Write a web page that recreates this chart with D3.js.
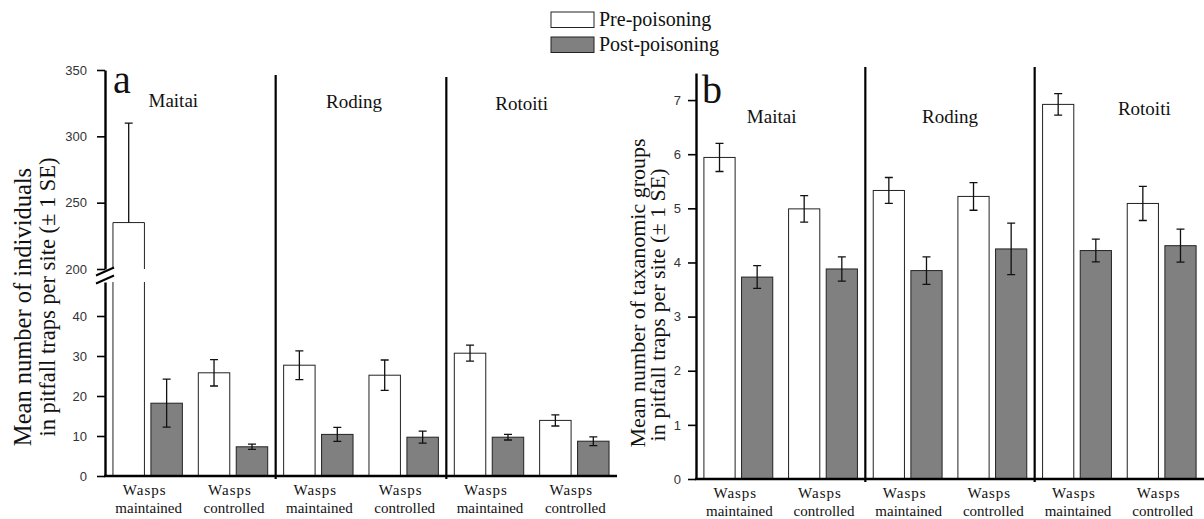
<!DOCTYPE html>
<html>
<head>
<meta charset="utf-8">
<script src="https://cdn.jsdelivr.net/npm/d3@7/dist/d3.min.js"></script>
<style>
  html, body { margin: 0; padding: 0; background: #fff; }
  svg { display: block; }
  .serif { font-family: "Liberation Serif", "Times New Roman", serif; fill: #111; }
  .tick text { font-family: "Liberation Sans", Arial, sans-serif; font-size: 13px; fill: #333; }
</style>
</head>
<body>
<svg id="chart" width="1204" height="519"></svg>
<script>
// ---- data ----
const sites = ["Maitai", "Roding", "Rotoiti"];
const treatments = ["Wasps maintained", "Wasps controlled"];
const series = ["Pre-poisoning", "Post-poisoning"];

// (a) mean number of individuals per site; order: site x treatment
const indivPre    = [235, 25.8, 27.7, 25.2, 30.7, 13.9];
const indivPreSE  = [75, 3.3, 3.6, 3.8, 2.0, 1.4];
const indivPost   = [18.2, 7.3, 10.4, 9.7, 9.7, 8.7];
const indivPostSE = [6.0, 0.65, 1.75, 1.5, 0.7, 1.1];

// (b) mean number of taxonomic groups per site
const taxaPre    = [5.94, 4.99, 5.33, 5.22, 6.92, 5.09];
const taxaPreSE  = [0.26, 0.245, 0.24, 0.255, 0.20, 0.315];
const taxaPost   = [3.73, 3.88, 3.85, 4.25, 4.22, 4.31];
const taxaPostSE = [0.21, 0.225, 0.255, 0.475, 0.21, 0.305];

// y tick values
const ticksALow = [0, 10, 20, 30, 40];
const ticksAUp  = [200, 250, 300, 350];
const ticksB    = [0, 1, 2, 3, 4, 5, 6, 7];

// ---- layout ----
const svg = d3.select("#chart");
const groups = sites.flatMap(s => treatments.map(t => s + "|" + t));
const fills = { "Pre-poisoning": "#ffffff", "Post-poisoning": "#808080" };

function rows(pre, preSE, post, postSE) {
  const out = [];
  groups.forEach((g, i) => {
    out.push({ g, s: series[0], v: pre[i], se: preSE[i] });
    out.push({ g, s: series[1], v: post[i], se: postSE[i] });
  });
  return out;
}

function drawPanel(cfg) {
  const root = svg.append("g");
  const x = d3.scaleBand().domain(groups).range(cfg.xRange).paddingInner(0).paddingOuter(0);
  const xi = d3.scaleBand().domain(series).range([0, x.bandwidth()])
    .paddingInner(0.171).paddingOuter(0.21);
  const base = cfg.yLow(0);

  // site dividers
  sites.slice(1).forEach((s, k) => {
    const xd = x(s + "|" + treatments[0]);
    root.append("line")
      .attr("x1", xd).attr("x2", xd)
      .attr("y1", cfg.dividerTop[k]).attr("y2", base + 3)
      .attr("stroke", "#000").attr("stroke-width", 2.2);
  });

  const data = rows(...cfg.values);
  const upTop = cfg.yUp ? cfg.yUp.domain()[0] : Infinity;
  const lowMax = cfg.yLow.domain()[1];

  data.forEach(d => {
    const x0 = x(d.g) + xi(d.s), w = xi.bandwidth();
    const g = root.append("g");
    if (d.v <= lowMax) {
      const yt = cfg.yLow(d.v);
      g.append("rect").attr("x", x0).attr("y", yt).attr("width", w).attr("height", base - yt)
        .attr("fill", fills[d.s]).attr("stroke", "#222").attr("stroke-width", 1);
    } else {
      // bar spanning the axis break: lower and upper pieces, open at the break
      const yl = cfg.yLow(lowMax), yu0 = cfg.yUp(upTop), yt = cfg.yUp(d.v);
      g.append("rect").attr("x", x0).attr("y", yl).attr("width", w).attr("height", base - yl)
        .attr("fill", fills[d.s]);
      g.append("path").attr("d", `M${x0},${base}V${yl}M${x0 + w},${yl}V${base}`)
        .attr("fill", "none").attr("stroke", "#222").attr("stroke-width", 1);
      g.append("rect").attr("x", x0).attr("y", yt).attr("width", w).attr("height", yu0 - yt)
        .attr("fill", fills[d.s]);
      g.append("path").attr("d", `M${x0},${yu0}V${yt}H${x0 + w}V${yu0}`)
        .attr("fill", "none").attr("stroke", "#222").attr("stroke-width", 1);
    }
    // error bar (± 1 SE)
    const y = v => (v <= lowMax ? cfg.yLow(v) : cfg.yUp(v));
    const cx = x0 + w / 2, cap = 4;
    const hi = d.v + d.se, lo = d.v - d.se;
    const yHi = y(hi);
    const loVisible = lo <= lowMax || lo >= upTop;
    const yLo = loVisible ? y(lo) : y(d.v);
    let p = `M${cx},${yHi}V${yLo}M${cx - cap},${yHi}H${cx + cap}`;
    if (loVisible) p += `M${cx - cap},${yLo}H${cx + cap}`;
    g.append("path").attr("d", p).attr("fill", "none").attr("stroke", "#111").attr("stroke-width", 1.3);
  });

  // x axis baseline and category labels
  root.append("line").attr("x1", cfg.xRange[0] - 1).attr("x2", cfg.xRange[1])
    .attr("y1", base).attr("y2", base).attr("stroke", "#000").attr("stroke-width", 2.4);
  groups.forEach(gk => {
    const t = gk.split("|")[1].split(" ");
    const cx = x(gk) + x.bandwidth() / 2;
    const txt = root.append("text").attr("class", "serif").attr("text-anchor", "middle")
      .style("font-size", "15px");
    txt.append("tspan").attr("x", cx - 3).attr("y", base + 19).style("letter-spacing", "1px").text(t[0]);
    txt.append("tspan").attr("x", cx + 1).attr("y", base + 37).text(t[1]);
  });

  // y axes
  const styleAxis = sel => {
    sel.select(".domain").attr("stroke", "#000").attr("stroke-width", 2.4);
    sel.selectAll(".tick line").attr("stroke", "#000").attr("stroke-width", 1.6);
  };
  const ax0 = cfg.xRange[0];
  root.append("g").attr("transform", `translate(${ax0},0)`)
    .call(d3.axisLeft(cfg.yLow).tickValues(cfg.ticksLow).tickSize(8).tickSizeOuter(0).tickPadding(cfg.tickPad))
    .call(styleAxis);
  if (cfg.yUp) {
    root.append("g").attr("transform", `translate(${ax0},0)`)
      .call(d3.axisLeft(cfg.yUp).tickValues(cfg.ticksUp).tickSize(8).tickSizeOuter(0).tickPadding(cfg.tickPad))
      .call(styleAxis);
    // break marks
    const yb = (cfg.yLow(lowMax) + cfg.yUp(upTop)) / 2;
    [-4, 4].forEach(off => {
      root.append("line")
        .attr("x1", ax0 - 9).attr("y1", yb + off + 4)
        .attr("x2", ax0 + 9).attr("y2", yb + off - 4)
        .attr("stroke", "#000").attr("stroke-width", 2);
    });
  }

  // y titles
  cfg.titles.forEach(t => {
    root.append("text").attr("class", "serif").attr("text-anchor", "middle")
      .attr("transform", `translate(${t.x},${t.y}) rotate(-90)`)
      .style("font-size", t.size + "px").text(t.text);
  });

  // panel letter
  root.append("text").attr("class", "serif").attr("x", cfg.letter.x).attr("y", cfg.letter.y)
    .style("font-size", "40px").text(cfg.letter.text);

  // site names
  sites.forEach((s, k) => {
    const a = x(s + "|" + treatments[0]), b = x(s + "|" + treatments[1]) + x.bandwidth();
    root.append("text").attr("class", "serif").attr("text-anchor", "middle")
      .attr("x", (a + b) / 2 + cfg.siteDx[k]).attr("y", cfg.siteY[k])
      .style("font-size", "19px").text(s);
  });
}

// (a) broken y axis: 0-48.5 below the break, 200-350 above
drawPanel({
  xRange: [105, 617],
  yLow: d3.scaleLinear().domain([0, 48.5]).range([476, 282]),
  yUp: d3.scaleLinear().domain([200, 350]).range([269, 70]),
  ticksLow: ticksALow, ticksUp: ticksAUp, tickPad: 10,
  values: [indivPre, indivPreSE, indivPost, indivPostSE],
  dividerTop: [75, 77],
  titles: [
    { text: "Mean number of individuals", x: 31, y: 307, size: 24.5 },
    { text: "in pitfall traps per site (\u00b1 1 SE)", x: 55, y: 297, size: 22.5 }
  ],
  letter: { text: "a", x: 113, y: 93 },
  siteDx: [-17, -7, -10], siteY: [107, 108, 110]
});

// (b) taxonomic groups
drawPanel({
  xRange: [696, 1204],
  yLow: d3.scaleLinear().domain([0, 7.5]).range([479, 73]),
  yUp: null,
  ticksLow: ticksB, tickPad: 7,
  values: [taxaPre, taxaPreSE, taxaPost, taxaPostSE],
  dividerTop: [67, 67],
  titles: [
    { text: "Mean number of taxanomic groups", x: 645, y: 293, size: 22 },
    { text: "in pitfall traps per site (\u00b1 1 SE)", x: 665, y: 305, size: 22 }
  ],
  letter: { text: "b", x: 702, y: 103 },
  siteDx: [-9, 0, 25], siteY: [123, 123, 115]
});

// legend
const leg = svg.append("g");
series.forEach((s, i) => {
  leg.append("rect").attr("x", 551).attr("y", 12 + i * 25).attr("width", 43).attr("height", 15.5)
    .attr("fill", fills[s]).attr("stroke", "#222").attr("stroke-width", 1);
  leg.append("text").attr("class", "serif").attr("x", 599).attr("y", 26 + i * 25)
    .style("font-size", "20px").text(s);
});
</script>
</body>
</html>
